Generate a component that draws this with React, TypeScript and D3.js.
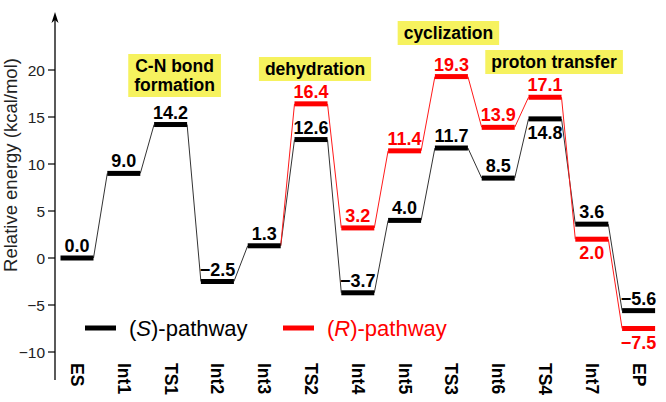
import { useEffect, useRef } from 'react';
import * as d3 from 'd3';

const categories = ['ES', 'Int1', 'TS1', 'Int2', 'Int3', 'TS2', 'Int4', 'Int5', 'TS3', 'Int6', 'TS4', 'Int7', 'EP'];
const sPathway = [0.0, 9.0, 14.2, -2.5, 1.3, 12.6, -3.7, 4.0, 11.7, 8.5, 14.8, 3.6, -5.6];
// R pathway shares the first five states with S (drawn only from TS2 on)
const rPathway = [0.0, 9.0, 14.2, -2.5, 1.3, 16.4, 3.2, 11.4, 19.3, 13.9, 17.1, 2.0, -7.5];
const rStart = 4;
const yTicks = [-10, -5, 0, 5, 10, 15, 20];
// which labels sit under their bar
const sBelow = ['TS4'];
const rBelow = ['Int7', 'EP'];
const annotations = [
    { lines: ['C-N bond', 'formation'], cat: 'TS1' },
    { lines: ['dehydration'], cat: 'TS2' },
    { lines: ['cyclization'], cat: 'TS3' },
    { lines: ['proton transfer'], cat: 'TS4' },
];

const FONT = 'Arial, "Liberation Sans", Helvetica, sans-serif';
const fmt = (v: number) => v.toFixed(1).replace('-', '\u2212');

export default function App() {
    const ref = useRef<SVGSVGElement>(null);

    useEffect(() => {
        if (!ref.current) return;
        const svg = d3.select(ref.current);
        svg.selectAll('*').remove();

        const width = 666, height = 402;
        const axisX = 55;
        const barW = 33;

        const x = d3.scalePoint<string>().domain(categories).range([77, 638.6]);
        const y = d3.scaleLinear().domain([0, 20]).range([258, 70]);

        svg.attr('width', width).attr('height', height)
            .attr('font-family', FONT);

        svg.append('rect').attr('width', width).attr('height', height).attr('fill', '#fff');

        // y axis with arrow
        svg.append('line')
            .attr('x1', axisX).attr('x2', axisX).attr('y1', 18).attr('y2', 380)
            .attr('stroke', '#000').attr('stroke-width', 1.3);
        svg.append('path')
            .attr('d', `M${axisX},12 L${axisX - 3.5},23 L${axisX},20 L${axisX + 3.5},23 Z`)
            .attr('fill', '#000');

        const ticks = svg.append('g');
        yTicks.forEach(t => {
            ticks.append('line')
                .attr('x1', axisX - 7).attr('x2', axisX)
                .attr('y1', y(t)).attr('y2', y(t))
                .attr('stroke', '#000').attr('stroke-width', 1.2);
            ticks.append('text')
                .attr('x', axisX - 10).attr('y', y(t) + 5.5)
                .attr('text-anchor', 'end')
                .attr('font-size', 15.5)
                .attr('fill', '#222')
                .text(String(t).replace('-', '\u2212'));
        });

        svg.append('text')
            .attr('transform', `translate(17,165) rotate(-90)`)
            .attr('text-anchor', 'middle')
            .attr('font-size', 18.5)
            .attr('fill', '#222')
            .text('Relative energy (kcal/mol)');

        // category labels, rotated
        categories.forEach(c => {
            svg.append('text')
                .attr('transform', `translate(${x(c)! - 6},363) rotate(90)`)
                .attr('font-size', 17.5)
                .attr('font-weight', 'bold')
                .text(c);
        });

        // connectors
        const connect = (vals: number[], from: number, color: string) => {
            const line = d3.line<[number, number]>();
            for (let i = from; i < vals.length - 1; i++) {
                const p: [number, number][] = [
                    [x(categories[i])! + barW / 2, y(vals[i])],
                    [x(categories[i + 1])! - barW / 2, y(vals[i + 1])],
                ];
                svg.append('path').attr('d', line(p)).attr('stroke', color)
                    .attr('stroke-width', 1).attr('fill', 'none');
            }
        };
        connect(sPathway, 0, '#333');
        connect(rPathway, rStart, '#ff1a1a');

        const bars = (vals: number[], from: number, color: string, below: string[]) => {
            vals.forEach((v, i) => {
                if (i < from) return;
                const cx = x(categories[i])!;
                svg.append('rect')
                    .attr('x', cx - barW / 2).attr('y', y(v) - 2.5)
                    .attr('width', barW).attr('height', 5)
                    .attr('fill', color);
                const under = below.includes(categories[i]);
                svg.append('text')
                    .attr('x', cx).attr('y', under ? y(v) + 20 : y(v) - 6)
                    .attr('text-anchor', 'middle')
                    .attr('font-size', 18)
                    .attr('font-weight', 'bold')
                    .attr('fill', color)
                    .text(fmt(v));
            });
        };
        bars(sPathway, 0, '#000', sBelow);
        bars(rPathway, rStart + 1, '#ff0000', rBelow);

        // step annotation boxes
        const annLayout: Record<string, { dx: number; base: number }> = {
            TS1: { dx: 4, base: 72 },
            TS2: { dx: 4, base: 75 },
            TS3: { dx: -3, base: 39 },
            TS4: { dx: 9, base: 68 },
        };
        annotations.forEach(a => {
            const lay = annLayout[a.cat];
            const cx = x(a.cat)! + lay.dx;
            const g = svg.append('g');
            const rect = g.append('rect').attr('fill', '#f6f25e');
            const texts = a.lines.map((l, k) =>
                g.append('text')
                    .attr('x', cx).attr('y', lay.base + k * 19)
                    .attr('text-anchor', 'middle')
                    .attr('font-size', 17.5)
                    .attr('font-weight', 'bold')
                    .attr('fill', '#000')
                    .text(l));
            const boxes = texts.map(t => (t.node() as SVGTextElement).getBBox());
            const x0 = d3.min(boxes, b => b.x)!, x1 = d3.max(boxes, b => b.x + b.width)!;
            const y0 = d3.min(boxes, b => b.y)!, y1 = d3.max(boxes, b => b.y + b.height)!;
            rect.attr('x', x0 - 6).attr('y', y0 - 2)
                .attr('width', x1 - x0 + 12).attr('height', y1 - y0 + 4);
        });

        // legend
        const legend = [
            { name: 'S', color: '#000', x0: 85 },
            { name: 'R', color: '#ff0000', x0: 283 },
        ];
        legend.forEach(l => {
            svg.append('rect').attr('x', l.x0).attr('y', 325.5)
                .attr('width', 31).attr('height', 5).attr('fill', l.color);
            const t = svg.append('text')
                .attr('x', l.x0 + 44).attr('y', 336)
                .attr('font-size', 22).attr('fill', l.color);
            t.append('tspan').text('(');
            t.append('tspan').attr('font-style', 'italic').text(l.name);
            t.append('tspan').text(')-pathway');
        });
    }, []);

    return (
        <svg ref={ref} style={{ position: 'absolute', left: 0, top: 0 }} />
    );
}
